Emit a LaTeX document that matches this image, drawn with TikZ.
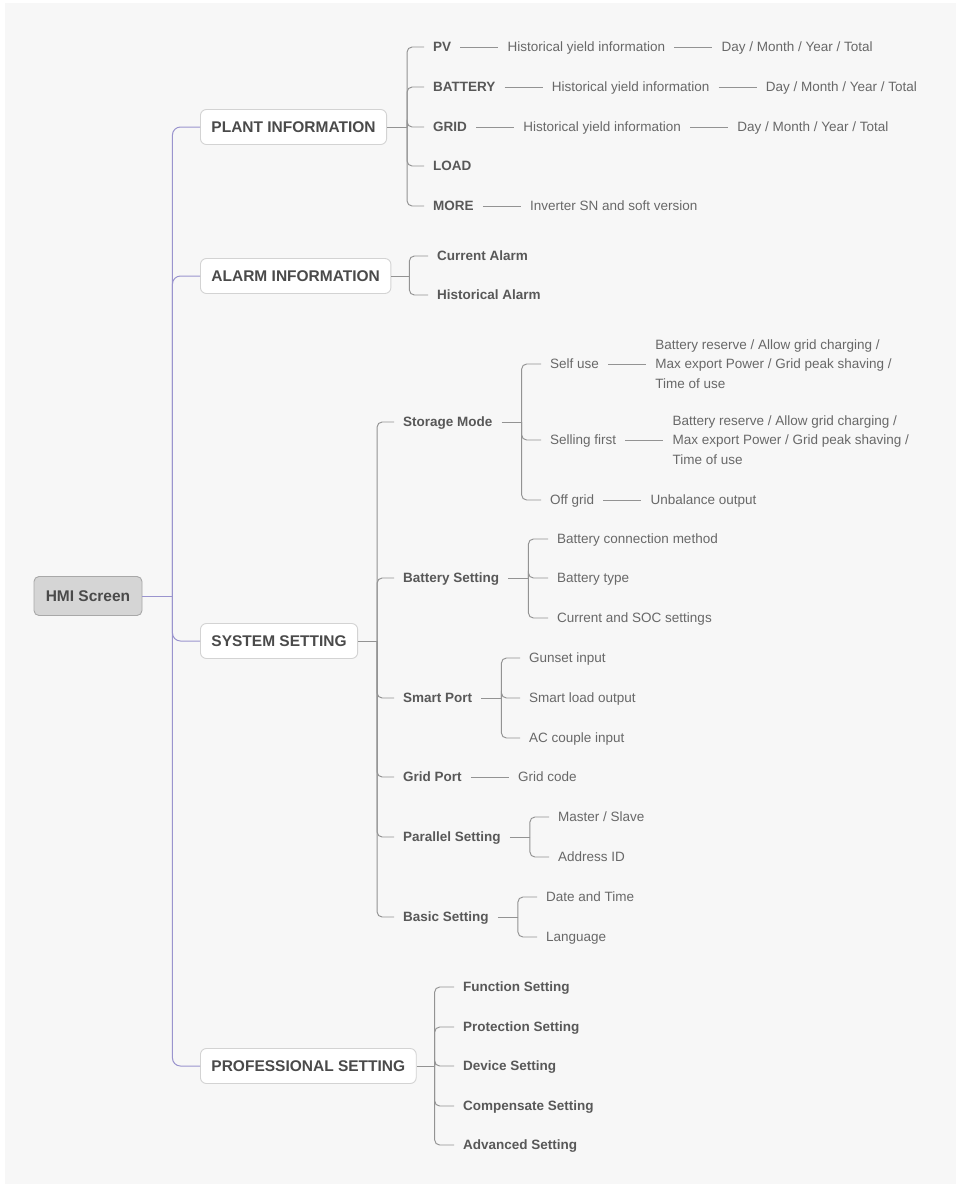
\documentclass[tikz,border=0pt]{standalone}
\usepackage{fontspec}
\setmainfont{Liberation Sans}
\usepackage{xcolor}
\usepackage{tikz}
\usetikzlibrary{positioning,calc}
\definecolor{pagebg}{HTML}{F7F7F7}
\definecolor{hmifill}{HTML}{D5D5D5}
\definecolor{hmiline}{HTML}{A8A8A8}
\definecolor{boxline}{HTML}{D3D3D3}
\definecolor{txtdark}{HTML}{4A4A4A}
\definecolor{txtmid}{HTML}{585858}
\definecolor{txtlight}{HTML}{686868}
\definecolor{lncol}{HTML}{939393}
\definecolor{trunkcol}{HTML}{9A94CE}
\tikzset{
  root/.style={draw=hmiline,fill=hmifill,rounded corners=5pt,line width=0.9pt,
               font=\fontsize{15.5}{18}\selectfont\bfseries,text=txtdark,
               minimum width=108pt,minimum height=39pt,inner sep=0pt},
  cat/.style={draw=boxline,fill=white,rounded corners=6pt,line width=0.9pt,
              font=\fontsize{15.5}{18}\selectfont\bfseries,text=txtdark,
              inner xsep=11pt,minimum height=35pt,anchor=west},
  itm/.style={font=\fontsize{13.5}{19.5}\selectfont\bfseries,text=txtmid,
              inner xsep=9pt,inner ysep=0pt,text height=9.7pt,text depth=0pt,anchor=west},
  lf/.style={font=\fontsize{13.5}{19.5}\selectfont,text=txtlight,
             inner xsep=9pt,inner ysep=0pt,text height=9.7pt,text depth=0pt,anchor=west},
  para/.style={font=\fontsize{13.5}{19.5}\selectfont,text=txtlight,
               inner xsep=9pt,inner ysep=0pt,align=left,anchor=west},
  ln/.style={draw=lncol,line width=0.95pt},
  br/.style={ln,rounded corners=5pt},
  trunk/.style={draw=trunkcol,line width=1pt,rounded corners=8pt},
}
\begin{document}
\begin{tikzpicture}[x=1pt,y=-1pt,node distance=38pt]
\useasboundingbox (0,0) rectangle (960,1186);
\fill[white] (0,0) rectangle (960,1186);
\fill[pagebg] (5,3) rectangle (956,1184);
% root and main branches
\node[root] (hmi) at (88,596) {HMI Screen};
\node[cat] (plant) at (200,127) {PLANT INFORMATION};
\node[cat] (alarm) at (200,276) {ALARM INFORMATION};
\node[cat] (sys) at (200,641) {SYSTEM SETTING};
\node[cat] (prof) at (200,1066) {PROFESSIONAL SETTING};
\coordinate (tk) at ($(hmi.east)+(30,0)$);
\draw[trunk] (hmi.east) -- (tk);
\foreach \c in {plant,alarm,sys,prof} \draw[trunk] (tk) |- (\c.west);
% plant information
\node[itm] (pv) at (424,47) {PV};
\node[lf,right=of pv] (pvh) {Historical yield information};
\node[lf,right=of pvh] (pvd) {Day / Month / Year / Total};
\node[itm] (bat) at (424,87) {BATTERY};
\node[lf,right=of bat] (bath) {Historical yield information};
\node[lf,right=of bath] (batd) {Day / Month / Year / Total};
\node[itm] (grid) at (424,127) {GRID};
\node[lf,right=of grid] (gridh) {Historical yield information};
\node[lf,right=of gridh] (gridd) {Day / Month / Year / Total};
\node[itm] (load) at (424,166) {LOAD};
\node[itm] (more) at (424,206) {MORE};
\node[lf,right=of more] (moresn) {Inverter SN and soft version};
\coordinate (pk) at ($(plant.east)+(20,0)$);
\draw[ln] (plant.east) -- (pk);
\foreach \c in {pv,bat,grid,load,more} \draw[br] (pk) |- (\c.west);
\foreach \a/\b in {pv/pvh,pvh/pvd,bat/bath,bath/batd,grid/gridh,gridh/gridd,more/moresn}
  \draw[ln] (\a.east) -- (\b.west);
% alarm information
\node[itm] (cur) at (428,256) {Current Alarm};
\node[itm] (hist) at (428,295) {Historical Alarm};
\coordinate (ak) at ($(alarm.east)+(18,0)$);
\draw[ln] (alarm.east) -- (ak);
\foreach \c in {cur,hist} \draw[br] (ak) |- (\c.west);
% system setting
\node[itm] (stor) at (394,422) {Storage Mode};
\node[itm] (bset) at (394,578) {Battery Setting};
\node[itm] (smart) at (394,698) {Smart Port};
\node[itm] (gport) at (394,777) {Grid Port};
\node[itm] (par) at (394,837) {Parallel Setting};
\node[itm] (basic) at (394,917) {Basic Setting};
\coordinate (sk) at ($(sys.east)+(19,0)$);
\draw[ln] (sys.east) -- (sk);
\foreach \c in {stor,bset,smart,gport,par,basic} \draw[br] (sk) |- (\c.west);
% storage mode
\node[lf] (self) at (541,364) {Self use};
\node[para,right=of self] (selfp)
  {Battery reserve / Allow grid charging /\\Max export Power / Grid peak shaving /\\Time of use};
\node[lf] (sell) at (541,440) {Selling first};
\node[para,right=of sell] (sellp)
  {Battery reserve / Allow grid charging /\\Max export Power / Grid peak shaving /\\Time of use};
\node[lf] (off) at (541,500) {Off grid};
\node[lf,right=of off] (unbal) {Unbalance output};
\coordinate (stk) at ($(stor.east)+(20,0)$);
\draw[ln] (stor.east) -- (stk);
\foreach \c in {self,sell,off} \draw[br] (stk) |- (\c.west);
\foreach \a/\b in {self/selfp,sell/sellp,off/unbal} \draw[ln] (\a.east) -- (\b.west);
% battery setting
\node[lf] (bconn) at (548,539) {Battery connection method};
\node[lf] (btype) at (548,578) {Battery type};
\node[lf] (bsoc) at (548,618) {Current and SOC settings};
\coordinate (bk) at ($(bset.east)+(20,0)$);
\draw[ln] (bset.east) -- (bk);
\foreach \c in {bconn,btype,bsoc} \draw[br] (bk) |- (\c.west);
% smart port
\node[lf] (gen) at (520,658) {Gunset input};
\node[lf] (sload) at (520,698) {Smart load output};
\node[lf] (acc) at (520,738) {AC couple input};
\coordinate (mk) at ($(smart.east)+(20,0)$);
\draw[ln] (smart.east) -- (mk);
\foreach \c in {gen,sload,acc} \draw[br] (mk) |- (\c.west);
% grid port
\node[lf,right=of gport] (gcode) {Grid code};
\draw[ln] (gport.east) -- (gcode.west);
% parallel setting
\node[lf] (mast) at (549,817) {Master / Slave};
\node[lf] (addr) at (549,857) {Address ID};
\coordinate (rk) at ($(par.east)+(20,0)$);
\draw[ln] (par.east) -- (rk);
\foreach \c in {mast,addr} \draw[br] (rk) |- (\c.west);
% basic setting
\node[lf] (date) at (537,897) {Date and Time};
\node[lf] (lang) at (537,937) {Language};
\coordinate (ck) at ($(basic.east)+(20,0)$);
\draw[ln] (basic.east) -- (ck);
\foreach \c in {date,lang} \draw[br] (ck) |- (\c.west);
% professional setting
\node[itm] (func) at (454,987) {Function Setting};
\node[itm] (prot) at (454,1027) {Protection Setting};
\node[itm] (dev) at (454,1066) {Device Setting};
\node[itm] (comp) at (454,1106) {Compensate Setting};
\node[itm] (adv) at (454,1145) {Advanced Setting};
\coordinate (fk) at ($(prof.east)+(18,0)$);
\draw[ln] (prof.east) -- (fk);
\foreach \c in {func,prot,dev,comp,adv} \draw[br] (fk) |- (\c.west);
\end{tikzpicture}
\end{document}
